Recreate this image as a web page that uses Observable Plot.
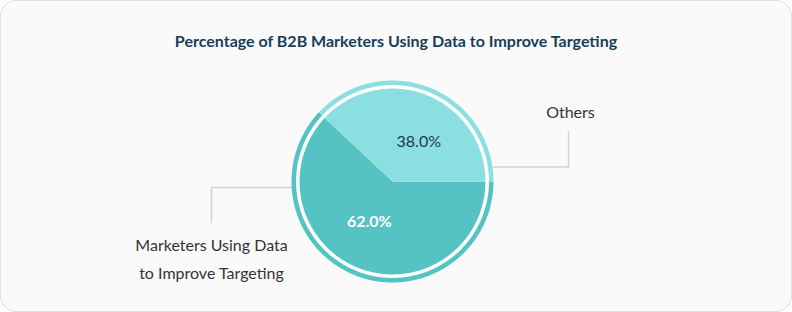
<!DOCTYPE html>
<html>
<head>
<meta charset="utf-8">
<script src="https://cdn.jsdelivr.net/npm/d3@7"></script>
<script src="https://cdn.jsdelivr.net/npm/@observablehq/plot@0.6"></script>
<style>
  html, body { margin: 0; padding: 0; background: #ffffff; }
  #card {
    position: relative; width: 792px; height: 312px; box-sizing: border-box;
    border-radius: 16px; background: #fafafa; overflow: hidden;
    box-shadow: inset 0 0 0 1px #e3e3e3;
    font-family: Lato, "Open Sans", sans-serif;
  }
  #title {
    position: absolute; top: 0; left: 0; width: 792px; height: 62px;
    line-height: 82px; text-align: center; font-size: 16px; font-weight: 700;
    color: #173d5a; letter-spacing: 0px;
  }
  #chart { position: absolute; top: 62px; left: 0; }
</style>
</head>
<body>
<div id="card">
  <div id="title">Percentage of B2B Marketers Using Data to Improve Targeting</div>
  <div id="chart"></div>
</div>
<script>
// ---- data ----
const categories = ["Marketers Using Data\nto Improve Targeting", "Others"];
const values = [62.0, 38.0];
const valueLabels = ["62.0%", "38.0%"];
const colors = ["#55c2c3", "#8cdfe0"];

// ---- layout (pie radius units) ----
const ringOuter = 1.0, gapOuter = 0.955, fillR = 0.92;
const labelPos = [[-0.23, -0.40], [0.26, 0.39]];
const leaderPaths = [
  [[-1.0, -0.059], [-1.792, -0.059], [-1.792, -0.406]],
  [[1.0, 0.144], [1.743, 0.144], [1.743, 0.495]]
];
const namePos = [[-1.792, -0.64], [1.762, 0.683]];
const nameLineStep = 0.277;

const pie = d3.pie().sort(null).startAngle(Math.PI / 2).endAngle(Math.PI / 2 + 2 * Math.PI);
const arcs = pie(values);

function slicePoints(r) {
  const pts = [];
  arcs.forEach((a, i) => {
    pts.push({slice: i, x: 0, y: 0});
    const n = Math.max(8, Math.ceil((a.endAngle - a.startAngle) / 0.01));
    for (let k = 0; k <= n; k++) {
      const t = a.startAngle + (a.endAngle - a.startAngle) * k / n;
      pts.push({slice: i, x: r * Math.sin(t), y: r * Math.cos(t)});
    }
  });
  return pts;
}
const circle = d3.range(0, 361).map(d => ({x: gapOuter * Math.sin(d * Math.PI / 180), y: gapOuter * Math.cos(d * Math.PI / 180)}));

const leaderData = leaderPaths.flatMap((p, i) => p.map(([x, y]) => ({slice: i, x, y})));
const nameData = categories.flatMap((c, i) => c.split("\n").map((line, j) => ({
  text: line, x: namePos[i][0], y: namePos[i][1] - j * nameLineStep
})));
const valueData = valueLabels.map((t, i) => ({text: t, x: labelPos[i][0], y: labelPos[i][1], i}));

const cx = 392, cy = 119, R = 101;
const chart = Plot.plot({
  width: 792, height: 250,
  margin: 0,
  style: {background: "transparent", fontFamily: "Lato, sans-serif"},
  x: {domain: [-1, 1], range: [cx - R, cx + R], axis: null},
  y: {domain: [-1, 1], range: [cy + R, cy - R], axis: null},
  marks: [
    Plot.line(leaderData, {x: "x", y: "y", z: "slice", stroke: "#d2d2d2", strokeWidth: 1.5}),
    Plot.line(slicePoints(ringOuter), {x: "x", y: "y", z: "slice", curve: "linear-closed", fill: d => colors[d.slice], stroke: "none"}),
    Plot.line(circle, {x: "x", y: "y", curve: "linear-closed", fill: "#ffffff", stroke: "none"}),
    Plot.line(slicePoints(fillR), {x: "x", y: "y", z: "slice", curve: "linear-closed", fill: d => colors[d.slice], stroke: "none"}),
    Plot.text(valueData.filter(d => d.i === 0), {x: "x", y: "y", text: "text", fontSize: 16, fill: "#ffffff", fontWeight: 700}),
    Plot.text(valueData.filter(d => d.i === 1), {x: "x", y: "y", text: "text", fontSize: 16, fill: "#1c3a4c"}),
    Plot.text(nameData, {x: "x", y: "y", text: "text", fontSize: 16, fill: "#333333"})
  ]
});
document.getElementById("chart").appendChild(chart);
</script>
</body>
</html>
